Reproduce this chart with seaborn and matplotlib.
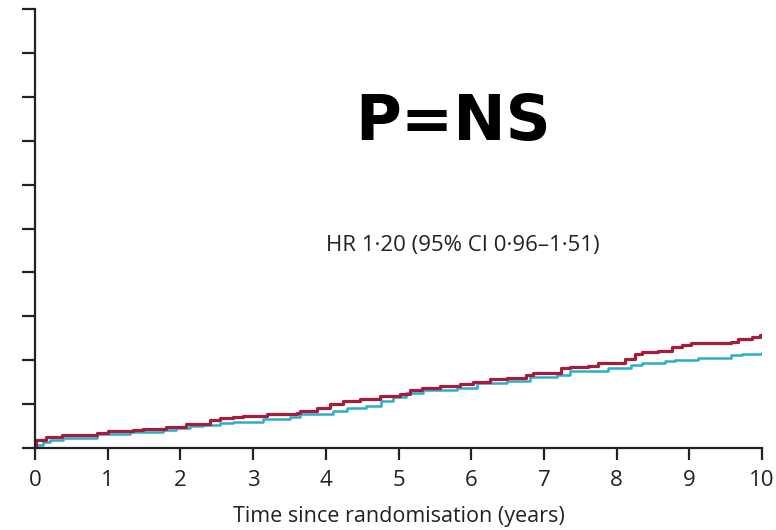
import matplotlib
matplotlib.use("Agg")
import matplotlib.pyplot as plt
import seaborn as sns
import pandas as pd

# Cumulative event curves (percent) by treatment arm, step times in years
red_years = [0, 0.02, 0.15, 0.37, 0.85, 1.0, 1.35, 1.49, 1.80, 2.08, 2.41, 2.54,
             2.72, 2.86, 3.19, 3.60, 3.65, 3.88, 4.06, 4.24, 4.47, 4.75, 5.02,
             5.16, 5.32, 5.57, 5.85, 6.02, 6.26, 6.49, 6.76, 6.85, 7.08, 7.24,
             7.36, 7.61, 7.74, 8.12, 8.25, 8.35, 8.57, 8.76, 8.90, 9.03, 9.31,
             9.58, 9.67, 9.86, 9.97, 10.0]
red_pct = [0, 0.9, 1.2, 1.5, 1.74, 1.9, 2.05, 2.2, 2.4, 2.7, 3.2, 3.4,
           3.5, 3.6, 3.9, 4.0, 4.25, 4.55, 5.0, 5.3, 5.6, 5.9, 6.15,
           6.6, 6.87, 7.06, 7.29, 7.55, 7.82, 7.97, 8.31, 8.5, 8.58, 9.08,
           9.19, 9.34, 9.72, 10.1, 10.67, 10.93, 11.08, 11.54, 11.77, 11.92, 11.99,
           12.1, 12.38, 12.6, 12.87, 12.87]

cyan_years = [0, 0.02, 0.11, 0.21, 0.39, 0.85, 1.31, 1.76, 1.94, 2.13, 2.31,
              2.54, 2.72, 3.14, 3.51, 3.65, 4.10, 4.29, 4.55, 4.76, 4.92, 5.11,
              5.34, 5.80, 6.08, 6.49, 6.81, 7.18, 7.36, 7.88, 8.20, 8.35, 8.66,
              8.80, 9.12, 9.26, 9.57, 9.72, 10.0]
cyan_pct = [0, 0.3, 0.65, 0.91, 1.15, 1.6, 1.78, 2.08, 2.24, 2.5, 2.62,
            2.88, 3.0, 3.35, 3.56, 3.85, 4.21, 4.55, 4.75, 5.4, 5.84, 6.23,
            6.6, 6.87, 7.37, 7.67, 8.05, 8.31, 8.8, 9.08, 9.5, 9.65, 9.91,
            10.02, 10.2, 10.3, 10.55, 10.65, 10.88]

x_ticks = list(range(0, 11))
y_ticks = list(range(0, 55, 5))

RED = "#a51d3d"
CYAN = "#2badcc"
AXIS = "#222222"

sns.set_theme(style="ticks")
plt.rcParams["font.family"] = ["Open Sans", "DejaVu Sans"]

fig = plt.figure(figsize=(7.76, 5.30), dpi=100)
ax = fig.add_axes([35 / 776, (530 - 448) / 530, 727 / 776, 439 / 530])

red_df = pd.DataFrame({"years": red_years, "pct": red_pct})
cyan_df = pd.DataFrame({"years": cyan_years, "pct": cyan_pct})

sns.lineplot(data=cyan_df, x="years", y="pct", ax=ax, color=CYAN,
             linewidth=1.8, drawstyle="steps-post", estimator=None, sort=False)
sns.lineplot(data=red_df, x="years", y="pct", ax=ax, color=RED,
             linewidth=2.3, drawstyle="steps-post", estimator=None, sort=False)

ax.set_xlim(0, 10)
ax.set_ylim(0, 50)
ax.set_xticks(x_ticks)
ax.set_xticklabels([str(t) for t in x_ticks], fontsize=16, color="#222222")
ax.set_yticks(y_ticks)
ax.set_yticklabels([])
ax.set_xlabel("Time since randomisation (years)", fontsize=15.5, color="#222222",
              labelpad=11)
ax.set_ylabel("")

for side in ("top", "right"):
    ax.spines[side].set_visible(False)
for side in ("left", "bottom"):
    ax.spines[side].set_color(AXIS)
    ax.spines[side].set_linewidth(1.6)
ax.tick_params(axis="x", bottom=True, direction="out", length=8.5, width=1.6,
               color=AXIS, pad=7)
ax.tick_params(axis="y", left=True, direction="out", length=9.5, width=1.6,
               color=AXIS)

ax.text(0.575, 0.74, "P=NS", transform=ax.transAxes, ha="center", va="center",
        fontsize=45, fontweight="bold", family=["DejaVu Sans"], color="black")
ax.text(0.588, 0.462, "HR 1·20 (95% CI 0·96–1·51)", transform=ax.transAxes,
        ha="center", va="center", fontsize=16, color="#222222")

fig.savefig("out.png", dpi=100)
